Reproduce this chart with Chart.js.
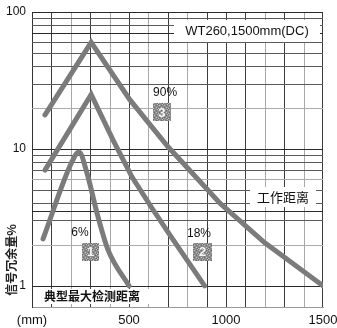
<!DOCTYPE html>
<html>
<head>
<meta charset="utf-8">
<script src="https://cdn.jsdelivr.net/npm/chart.js@4"></script>
<style>
  body { margin: 0; background: #fff; }
  #wrap { width: 337px; height: 328px; }
</style>
</head>
<body>
<div id="wrap"><canvas id="myChart"></canvas></div>
<script>
// detection distance (mm) vs signal margin (%) for each object reflectivity
const dist90 = [67, 305, 505, 700, 970, 1200, 1500];
const margin90 = [17.7, 60, 22.8, 10.4, 4.0, 2.06, 1];
const dist18 = [67, 305, 418, 515, 618, 727, 890];
const margin18 = [7.0, 25, 11.6, 6.25, 3.7, 2.17, 1];
const dist6 = [57, 205, 242, 283, 335, 392, 500];
const margin6 = [2.2, 8.0, 9.5, 6.7, 3.4, 1.83, 1];

const xGridValues = [0, 100, 200, 300, 400, 500, 600, 700, 800, 900, 1000, 1100, 1200, 1300, 1400, 1500];
const yGridValues = [1, 2, 3, 3.5, 4, 5, 6, 7, 8, 9, 10, 20, 30, 40, 50, 60, 70, 80, 90, 100];
const yTickLabels = [1, 10, 100];
const xTickLabels = [500, 1000, 1500];

const toPoints = (xs, ys) => xs.map((v, i) => ({ x: v, y: ys[i] }));

const LATIN = '"Liberation Sans", Arial, sans-serif';
const CJK = '"Noto Sans CJK SC", sans-serif';

const curve = (data, extra) => ({
  data,
  borderColor: '#7b7b7b',
  borderWidth: 5,
  borderCapStyle: 'round',
  pointRadius: 0,
  tension: 0,
  fill: false,
  ...extra,
});

// two tones of grid, like the printed sheet
const vColor = v => ((v / 100) % 2 === 1 || v === 1000 || v === 1500 ? '#3c3c3c' : '#a8a8a8');
const hColor = v => ([1, 10, 3.5, 100, 70].includes(v) ? '#2a2a2a' : [20, 2, 6].includes(v) ? '#ababab' : '#5a5a5a');

const xPixel = (chart, v) => {
  const x = chart.scales.x;
  const a = chart.chartArea;
  const p = x.getPixelForValue(v);
  return Number.isFinite(p) ? p : a.left + ((v - x.min) / (x.max - x.min)) * (a.right - a.left);
};

const gridLines = {
  id: 'gridLines',
  beforeDatasetsDraw(chart) {
    const { ctx, chartArea: a } = chart;
    const y = chart.scales.y;
    ctx.save();
    yGridValues.forEach(v => {
      const p = Math.round(y.getPixelForValue(v));
      ctx.fillStyle = hColor(v);
      ctx.fillRect(a.left, p, a.right - a.left, 1);
    });
    ctx.restore();
  },
  // vertical rules go underneath everything already on the canvas
  afterDraw(chart) {
    const { ctx, chartArea: a } = chart;
    ctx.save();
    ctx.globalAlpha = 1;
    ctx.globalCompositeOperation = 'destination-over';
    xGridValues.forEach(v => {
      const p = Math.round(xPixel(chart, v));
      ctx.fillStyle = vColor(v);
      ctx.fillRect(Math.min(p, Math.round(a.right) - 1), Math.round(a.top), 1, Math.round(a.bottom - a.top));
    });
    ctx.restore();
  },
};

// small stippled grey tag with a number
const badge = (ctx, cx, cy, w, h, text) => {
  const x0 = Math.round(cx - w / 2);
  const y0 = Math.round(cy - h / 2);
  ctx.fillStyle = '#8c8c8c';
  ctx.fillRect(x0, y0, w, h);
  for (let i = 0; i < w; i++) {
    for (let j = 0; j < h; j++) {
      const k = (i * 7 + j * 13 + i * j) % 5;
      if (k === 0) {
        ctx.fillStyle = '#c4c4c4';
        ctx.fillRect(x0 + i, y0 + j, 1, 1);
      } else if (k === 3) {
        ctx.fillStyle = '#6a6a6a';
        ctx.fillRect(x0 + i, y0 + j, 1, 1);
      }
    }
  }
  ctx.font = `bold 13px ${LATIN}`;
  ctx.textAlign = 'center';
  ctx.textBaseline = 'middle';
  ctx.fillStyle = '#f4f4f4';
  ctx.fillText(text, cx, cy + 1);
};

const boxedText = (ctx, text, cx, cy, w, h, font) => {
  ctx.fillStyle = '#fff';
  ctx.fillRect(Math.round(cx - w / 2), Math.round(cy - h / 2), w, h);
  ctx.font = font;
  ctx.textAlign = 'center';
  ctx.textBaseline = 'middle';
  ctx.fillStyle = '#111';
  ctx.fillText(text, cx, cy);
};

const notes = {
  id: 'notes',
  afterDatasetsDraw(chart) {
    const { ctx, chartArea } = chart;
    const y = chart.scales.y;
    const px = v => xPixel(chart, v);
    const py = v => y.getPixelForValue(v);
    ctx.save();

    boxedText(ctx, 'WT260,1500mm(DC)', px(1108), py(72.6), 146, 22, `13px ${LATIN}`);
    boxedText(ctx, '工作距离', px(1294), py(4.47), 66, 20, `13px ${CJK}`);
    boxedText(ctx, '典型最大检测距离', px(309), py(0.83), 118, 15, `bold 12px ${CJK}`);

    ctx.font = `12px ${LATIN}`;
    ctx.textAlign = 'center';
    ctx.textBaseline = 'middle';
    ctx.fillStyle = '#111';
    ctx.fillText('90%', px(686), py(25.6));
    ctx.fillText('18%', px(861), py(2.4));
    ctx.fillText('6%', px(247), py(2.44));

    badge(ctx, px(670), py(18.6), 18, 18, '3');
    badge(ctx, px(879), py(1.77), 19, 18, '2');
    badge(ctx, px(302), py(1.77), 17, 18, '1');

    // y axis title, reading upwards
    ctx.translate(chartArea.left - 21, chartArea.bottom - 47);
    ctx.rotate(-Math.PI / 2);
    ctx.font = `bold 12px ${CJK}`;
    ctx.fillStyle = '#222';
    ctx.fillText('信号冗余量%', 0, 0);
    ctx.restore();
  },
};

new Chart(document.getElementById('myChart'), {
  type: 'line',
  data: {
    datasets: [
      curve(toPoints(dist90, margin90)),
      curve(toPoints(dist18, margin18)),
      curve(toPoints(dist6, margin6), { cubicInterpolationMode: 'monotone' }),
    ],
  },
  options: {
    responsive: true,
    maintainAspectRatio: false,
    animation: false,
    layout: { padding: { top: 12, right: 14, left: 0, bottom: 0 } },
    plugins: { legend: { display: false }, tooltip: { enabled: false } },
    scales: {
      x: {
        type: 'linear',
        min: 0,
        max: 1500,
        afterFit: s => {
          s.height = 21;
          s.paddingLeft = 0;
          s.paddingRight = 0;
        },
        border: { color: '#999', width: 1 },
        grid: { display: false, drawTicks: false },
        ticks: {
          stepSize: 100,
          autoSkip: false,
          maxRotation: 0,
          padding: 6,
          color: '#111',
          font: { family: LATIN, size: 13 },
          callback: v => (v === 0 ? '(mm)' : xTickLabels.includes(v) ? String(v) : ''),
        },
      },
      y: {
        type: 'logarithmic',
        min: 0.715,
        max: 100,
        afterFit: s => {
          s.width = 32;
          s.paddingTop = 0;
          s.paddingBottom = 0;
        },
        afterBuildTicks: s => { s.ticks = yGridValues.map(v => ({ value: v })); },
        border: { color: '#333', width: 1 },
        grid: { display: false, drawTicks: false },
        ticks: {
          autoSkip: false,
          padding: 6,
          color: '#111',
          font: { family: LATIN, size: 12 },
          callback: v => (yTickLabels.includes(v) ? String(v) : ''),
        },
      },
    },
  },
  plugins: [gridLines, notes],
});
</script>
</body>
</html>
